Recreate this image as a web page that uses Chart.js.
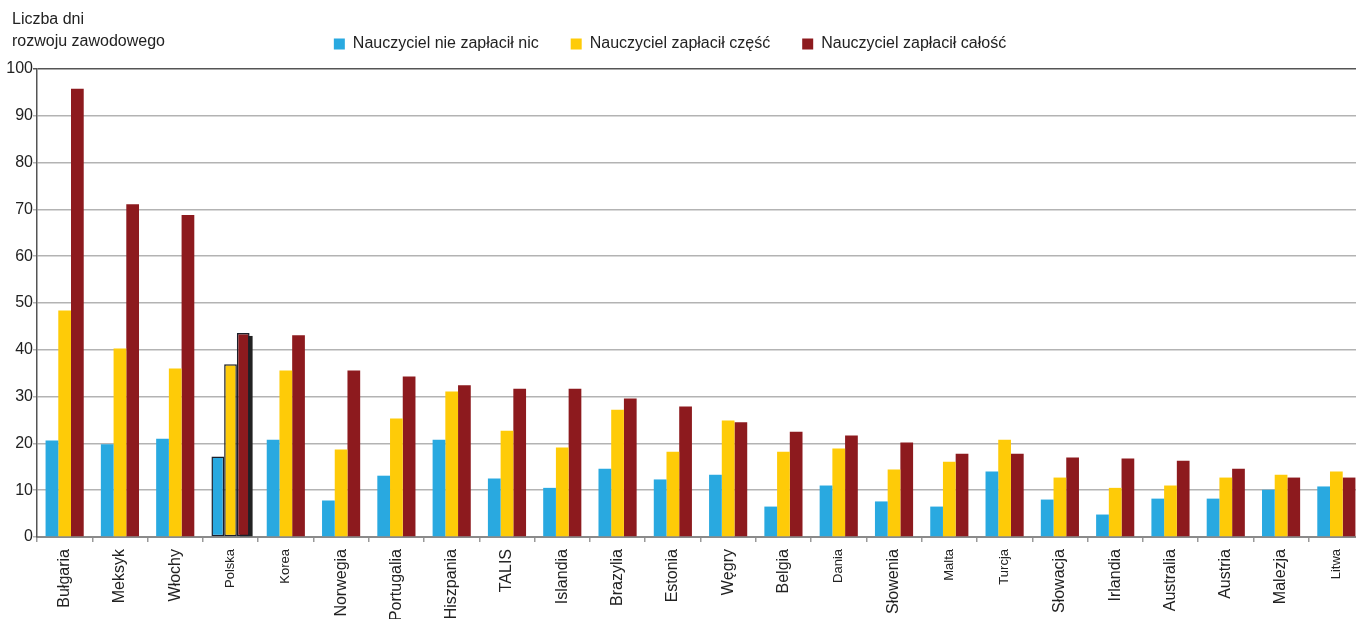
<!DOCTYPE html>
<html lang="pl">
<head>
<meta charset="utf-8">
<script src="https://cdn.jsdelivr.net/npm/chart.js@4.4.1/dist/chart.umd.min.js"></script>
<style>
  html, body { margin: 0; padding: 0; background: #fff; overflow: hidden; }
  #wrap { position: relative; width: 1364px; height: 619px; }
</style>
</head>
<body>
<div id="wrap"><canvas id="chart"></canvas></div>
<script>
const categories = ["Bułgaria", "Meksyk", "Włochy", "Polska", "Korea", "Norwegia", "Portugalia", "Hiszpania",
  "TALIS", "Islandia", "Brazylia", "Estonia", "Węgry", "Belgia", "Dania", "Słowenia", "Malta", "Turcja",
  "Słowacja", "Irlandia", "Australia", "Austria", "Malezja", "Litwa"];
const paidNothing = [20.6, 19.8, 21.0, 17.2, 20.8, 7.8, 13.1, 20.8, 12.5, 10.5, 14.6, 12.3, 13.3, 6.5, 11.0, 7.6, 6.5, 14.0, 8.0, 4.8, 8.2, 8.2, 10.1, 10.8];
const paidPart = [48.4, 40.3, 36.0, 36.9, 35.6, 18.7, 25.3, 31.1, 22.7, 19.1, 27.2, 18.2, 24.9, 18.2, 18.9, 14.4, 16.1, 20.8, 12.7, 10.5, 11.0, 12.7, 13.3, 14.0];
const paidAll = [95.8, 71.1, 68.8, 43.6, 43.1, 35.6, 34.3, 32.4, 31.7, 31.7, 29.6, 27.9, 24.5, 22.5, 21.7, 20.2, 17.8, 17.8, 17.0, 16.8, 16.3, 14.6, 12.7, 12.7];
const seriesNames = ["Nauczyciel nie zapłacił nic", "Nauczyciel zapłacił część", "Nauczyciel zapłacił całość"];
const yTitle = ["Liczba dni", "rozwoju zawodowego"];
const smallLabels = ["Polska", "Korea", "Dania", "Malta", "Turcja", "Litwa"];
const highlight = "Polska";

const FONT = "'Liberation Sans', Arial, Helvetica, sans-serif";
const hiIndex = categories.indexOf(highlight);

function dataset(label, data, color) {
  return {
    label,
    data,
    backgroundColor: color,
    borderColor: categories.map((c) => (c === highlight ? "#1b1f2a" : "rgba(0,0,0,0)")),
    borderWidth: categories.map((c) => (c === highlight ? 1.5 : 0)),
    borderSkipped: false,
    categoryPercentage: 0.69,
    barPercentage: 1.0
  };
}

// fixed legend band height, and nudge the legend a little
const legendBox = {
  id: "legendBox",
  beforeLayout(chart) {
    const legend = chart.legend;
    if (legend && !legend._patched) {
      const fit = legend.fit.bind(legend);
      legend.fit = function () { fit(); this.height = 67; };
      legend._patched = true;
    }
  },
  afterLayout(chart) {
    if (chart.legend) {
      chart.legend.left -= 12;
      chart.legend.right -= 12;
      chart.legend.top += 2;
      chart.legend.bottom += 2;
    }
  }
};

const shadowPlugin = {
  id: "shadowPlugin",
  beforeDatasetDraw(chart, args) {
    if (args.index !== 2 || hiIndex < 0) return;
    const bar = chart.getDatasetMeta(2).data[hiIndex];
    const ctx = chart.ctx;
    ctx.save();
    ctx.fillStyle = "#222";
    ctx.fillRect(bar.x - bar.width / 2 + 3, bar.y + 3, bar.width, bar.base - bar.y - 3);
    ctx.restore();
  }
};

const axisTitle = {
  id: "axisTitle",
  afterDraw(chart) {
    const ctx = chart.ctx;
    ctx.save();
    ctx.fillStyle = "#222";
    ctx.font = "16px " + FONT;
    ctx.textBaseline = "middle";
    ctx.textAlign = "left";
    yTitle.forEach((line, i) => ctx.fillText(line, 12, 20 + i * 22));
    ctx.restore();
  }
};

new Chart(document.getElementById("chart"), {
  type: "bar",
  data: {
    labels: categories,
    datasets: [
      dataset(seriesNames[0], paidNothing, "#29a9e0"),
      dataset(seriesNames[1], paidPart, "#fecb08"),
      dataset(seriesNames[2], paidAll, "#8d1a1e")
    ]
  },
  options: {
    responsive: true,
    maintainAspectRatio: false,
    animation: false,
    layout: { padding: { top: 2, right: 0, left: 0, bottom: 0 } },
    plugins: {
      tooltip: { enabled: false },
      legend: {
        position: "top",
        labels: {
          color: "#222",
          font: { family: FONT, size: 16 },
          boxWidth: 11,
          boxHeight: 11,
          padding: 32,
          generateLabels: (chart) => chart.data.datasets.map((ds, i) => ({
            text: ds.label,
            fillStyle: ds.backgroundColor,
            strokeStyle: ds.backgroundColor,
            lineWidth: 0,
            hidden: false,
            datasetIndex: i,
            fontColor: "#222"
          }))
        }
      }
    },
    scales: {
      x: {
        grid: {
          drawOnChartArea: false,
          drawTicks: true,
          tickLength: 5,
          color: "#999",
          lineWidth: 1.5
        },
        border: { color: "#8a8a8a", width: 2 },
        ticks: {
          color: "#222",
          autoSkip: false,
          maxRotation: 90,
          minRotation: 90,
          padding: 7,
          font: (ctx) => ({
            family: FONT,
            size: ctx.tick && smallLabels.includes(ctx.tick.label) ? 13 : 16
          })
        },
        afterFit: (scale) => { scale.height = 82; }
      },
      y: {
        min: 0,
        max: 100,
        grid: {
          color: (ctx) => (ctx.tick && ctx.tick.value === 100 ? "#555" : "#b3b3b3"),
          lineWidth: 1.5,
          tickLength: 4
        },
        border: { color: "#555", width: 1.5 },
        ticks: {
          stepSize: 10,
          color: "#222",
          padding: 0,
          font: { family: FONT, size: 16 }
        },
        afterFit: (scale) => { scale.width = 37; }
      }
    }
  },
  plugins: [legendBox, shadowPlugin, axisTitle]
});
</script>
</body>
</html>
